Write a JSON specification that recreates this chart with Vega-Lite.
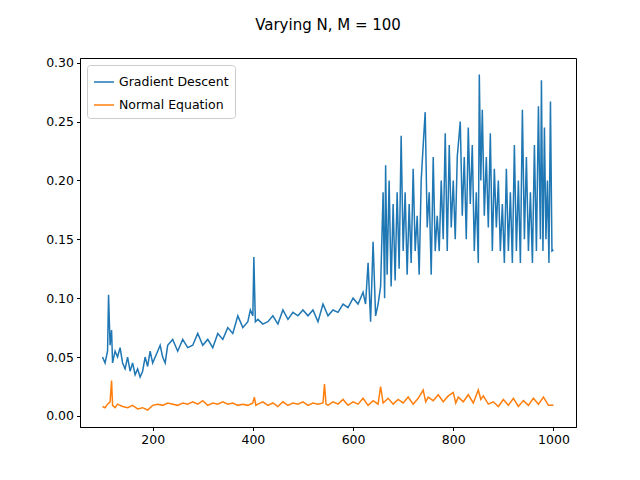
{
  "$schema": "https://vega.github.io/schema/vega-lite/v6.json",
  "autosize": "none",
  "width": 496,
  "height": 369,
  "padding": {"left": 80, "top": 58, "right": 64, "bottom": 53},
  "title": {"text": "Varying N, M = 100", "fontSize": 15, "fontWeight": "normal", "font": "DejaVu Sans", "offset": 24, "anchor": "middle"},
  "config": {
    "font": "DejaVu Sans",
    "view": {"stroke": "black", "strokeWidth": 1},
    "axis": {"grid": false, "domainColor": "black", "tickColor": "black", "labelColor": "black", "labelFontSize": 12.5, "tickSize": 3.5, "labelPadding": 3}
  },
  "datasets": {
    "gd": [
      [100,0.05],[105,0.045],[110,0.055],[112,0.103],[115,0.06],[118,0.073],[120,0.045],[125,0.055],[130,0.05],[135,0.058],[140,0.045],[145,0.04],[150,0.05],[155,0.038],[160,0.045],[165,0.035],[170,0.04],[175,0.033],[180,0.038],[185,0.05],[190,0.042],[195,0.055],[200,0.045],[210,0.055],[215,0.06],[220,0.05],[225,0.045],[230,0.06],[240,0.065],[250,0.055],[260,0.065],[270,0.058],[280,0.06],[290,0.07],[300,0.06],[310,0.065],[320,0.058],[330,0.07],[340,0.065],[350,0.075],[360,0.07],[370,0.085],[380,0.075],[390,0.08],[395,0.09],[400,0.085],[402,0.135],[405,0.08],[410,0.082],[420,0.078],[430,0.08],[440,0.085],[450,0.078],[460,0.09],[470,0.082],[480,0.088],[490,0.085],[500,0.09],[510,0.085],[520,0.09],[530,0.08],[540,0.095],[550,0.085],[560,0.09],[570,0.088],[580,0.095],[590,0.092],[600,0.1],[610,0.095],[620,0.105],[625,0.095],[630,0.13],[635,0.08],[640,0.148],[645,0.085],[650,0.095],[655,0.11],[660,0.19],[663,0.1],[665,0.213],[668,0.12],[672,0.2],[676,0.11],[680,0.18],[684,0.115],[688,0.19],[692,0.125],[696,0.238],[700,0.14],[704,0.19],[708,0.12],[712,0.18],[716,0.13],[720,0.21],[724,0.14],[728,0.17],[732,0.12],[736,0.2],[740,0.23],[744,0.258],[748,0.16],[752,0.19],[756,0.12],[760,0.22],[764,0.14],[768,0.17],[772,0.14],[776,0.2],[780,0.15],[784,0.24],[788,0.14],[792,0.23],[796,0.16],[800,0.2],[804,0.15],[808,0.22],[812,0.24],[814,0.25],[818,0.17],[822,0.22],[826,0.15],[830,0.245],[834,0.18],[838,0.23],[842,0.14],[846,0.19],[850,0.13],[852,0.29],[855,0.2],[858,0.26],[862,0.17],[866,0.22],[870,0.16],[874,0.24],[878,0.14],[882,0.21],[886,0.16],[890,0.2],[894,0.14],[898,0.18],[902,0.13],[906,0.21],[910,0.14],[914,0.19],[918,0.13],[922,0.23],[926,0.14],[930,0.2],[934,0.13],[938,0.26],[942,0.15],[946,0.22],[950,0.14],[954,0.19],[958,0.13],[962,0.23],[966,0.14],[970,0.263],[974,0.15],[976,0.285],[979,0.14],[982,0.245],[985,0.15],[988,0.2],[991,0.13],[994,0.267],[997,0.14],[1000,0.141]
    ],
    "ne": [
      [100,0.008],[105,0.007],[110,0.01],[115,0.012],[118,0.03],[120,0.009],[125,0.007],[130,0.01],[140,0.008],[150,0.007],[160,0.009],[170,0.006],[180,0.007],[190,0.005],[200,0.009],[210,0.01],[220,0.009],[230,0.011],[240,0.01],[250,0.009],[260,0.011],[270,0.01],[280,0.012],[290,0.01],[300,0.013],[310,0.009],[320,0.011],[330,0.01],[340,0.012],[350,0.01],[360,0.011],[370,0.009],[380,0.01],[390,0.009],[400,0.011],[403,0.016],[406,0.009],[410,0.01],[420,0.012],[430,0.009],[440,0.011],[450,0.008],[460,0.012],[470,0.009],[480,0.011],[490,0.01],[500,0.012],[510,0.009],[520,0.011],[530,0.01],[540,0.011],[543,0.027],[546,0.01],[550,0.009],[560,0.012],[570,0.01],[580,0.014],[590,0.009],[600,0.012],[610,0.01],[620,0.015],[630,0.009],[640,0.013],[650,0.01],[655,0.025],[660,0.011],[670,0.015],[680,0.01],[690,0.014],[700,0.011],[710,0.016],[720,0.01],[730,0.015],[740,0.022],[745,0.012],[750,0.016],[760,0.013],[770,0.018],[780,0.012],[790,0.017],[800,0.02],[805,0.011],[810,0.016],[820,0.012],[830,0.018],[840,0.011],[850,0.022],[855,0.014],[860,0.017],[870,0.01],[880,0.012],[890,0.008],[900,0.014],[910,0.009],[920,0.015],[930,0.008],[940,0.013],[950,0.009],[960,0.015],[970,0.01],[980,0.016],[990,0.009],[1000,0.009]
    ]
  },
  "layer": [
    {
      "data": {"name": "gd"},
      "transform": [{"calculate": "datum[0]", "as": "n"}, {"calculate": "datum[1]", "as": "t"}, {"calculate": "'Gradient Descent'", "as": "method"}],
      "mark": {"type": "line", "strokeWidth": 1.5},
      "encoding": {
        "x": {"field": "n", "type": "quantitative", "title": null, "scale": {"domain": [55, 1045], "nice": false}, "axis": {"values": [200, 400, 600, 800, 1000], "format": "d"}},
        "y": {"field": "t", "type": "quantitative", "title": null, "scale": {"domain": [-0.0094, 0.304], "nice": false, "zero": false}, "axis": {"values": [0, 0.05, 0.1, 0.15, 0.2, 0.25, 0.3], "format": ".2f"}},
        "color": {"field": "method", "type": "nominal", "scale": {"domain": ["Gradient Descent", "Normal Equation"], "range": ["#1f77b4", "#ff7f0e"]},
          "legend": {"title": null, "orient": "top-left", "offset": 7, "symbolType": "stroke", "symbolSize": 400, "symbolStrokeWidth": 1.5, "labelFontSize": 12.5, "strokeColor": "#cccccc", "fillColor": "white", "padding": 6, "cornerRadius": 3, "rowPadding": 5}}
      }
    },
    {
      "data": {"name": "ne"},
      "transform": [{"calculate": "datum[0]", "as": "n"}, {"calculate": "datum[1]", "as": "t"}, {"calculate": "'Normal Equation'", "as": "method"}],
      "mark": {"type": "line", "strokeWidth": 1.5},
      "encoding": {
        "x": {"field": "n", "type": "quantitative"},
        "y": {"field": "t", "type": "quantitative"},
        "color": {"field": "method", "type": "nominal"}
      }
    }
  ]
}
